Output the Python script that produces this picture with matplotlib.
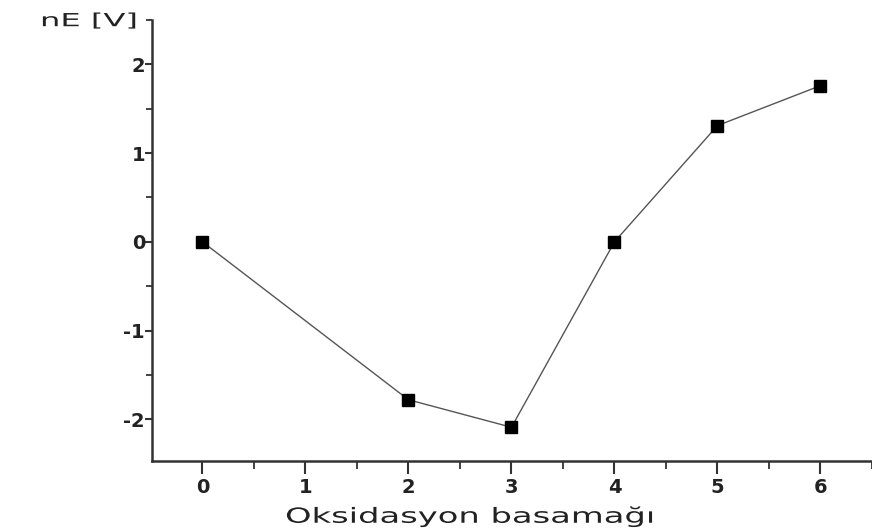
import matplotlib
matplotlib.use("Agg")
import matplotlib.pyplot as plt
from matplotlib.ticker import MultipleLocator
from matplotlib.patheffects import AbstractPathEffect
from matplotlib.transforms import Affine2D

plt.rcParams["axes.unicode_minus"] = False

x_vals = [0, 2, 3, 4, 5, 6]
y_vals = [0.0, -1.78, -2.09, 0.0, 1.31, 1.76]
x_ticks = [0, 1, 2, 3, 4, 5, 6]
y_ticks = [-2, -1, 0, 1, 2]


class HStretch(AbstractPathEffect):
    """Stretch text horizontally about its drawing origin."""
    def __init__(self, sx):
        super().__init__()
        self.sx = sx

    def draw_path(self, renderer, gc, tpath, affine, rgbFace=None):
        m = affine.get_matrix()
        x0, y0 = m[0, 2], m[1, 2]
        aff = affine + Affine2D().translate(-x0, -y0).scale(self.sx, 1).translate(x0, y0)
        renderer.draw_path(gc, tpath, aff, rgbFace)


fig = plt.figure(figsize=(8.72, 5.30), dpi=100)
ax = fig.add_axes([0.1743, 0.1302, 0.8257, 0.8321])

ax.plot(x_vals, y_vals, color="#555555", lw=1.0, marker="s", ms=8,
        markerfacecolor="black", markeredgecolor="black", zorder=3)

ax.set_xlim(-0.49, 6.5)
ax.set_ylim(-2.47, 2.5)
ax.set_xticks(x_ticks)
ax.set_yticks(y_ticks)
ax.xaxis.set_minor_locator(MultipleLocator(0.5))
ax.yaxis.set_minor_locator(MultipleLocator(0.5))

for s in ["top", "right"]:
    ax.spines[s].set_visible(False)
for s in ["left", "bottom"]:
    ax.spines[s].set_linewidth(1.8)
    ax.spines[s].set_color("#333333")

ax.tick_params(axis="x", which="major", direction="out", length=9, width=1.5,
               color="#333333", labelsize=14, labelcolor="#222222", pad=3)
ax.tick_params(axis="x", which="minor", direction="out", length=6, width=1.3,
               color="#333333")
ax.tick_params(axis="y", which="major", direction="out", length=5, width=1.5,
               color="#333333", labelsize=14, labelcolor="#222222", pad=0)
ax.tick_params(axis="y", which="minor", direction="out", length=4, width=1.3,
               color="#333333")
for lab in ax.get_xticklabels() + ax.get_yticklabels():
    lab.set_fontfamily("DejaVu Sans")
    lab.set_fontweight("bold")

fig.text(40 / 872, 0.960, "nE [V]", fontsize=13, family="DejaVu Sans",
         color="#222222", ha="left", va="center",
         path_effects=[HStretch(1.78)])
fig.text(285 / 872, 1 - 516 / 530, "Oksidasyon basamağı", fontsize=15,
         family="DejaVu Sans", color="#222222", ha="left", va="center",
         path_effects=[HStretch(1.62)])

fig.savefig("out.png", dpi=100)
